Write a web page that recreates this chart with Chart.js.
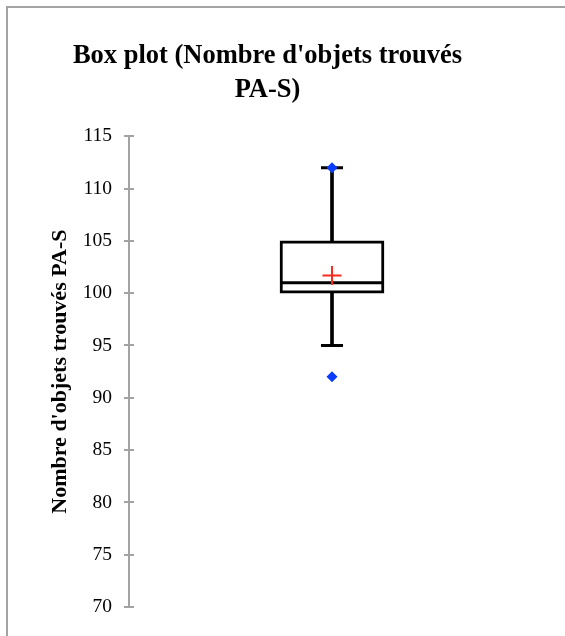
<!DOCTYPE html>
<html>
<head>
<meta charset="utf-8">
<script src="https://cdn.jsdelivr.net/npm/chart.js@4.4.0/dist/chart.umd.min.js"></script>
<style>
  html, body { margin: 0; padding: 0; background: #fff; }
  #wrap { position: relative; width: 565px; height: 636px; overflow: hidden; }
  #frame { position: absolute; left: 6px; top: 6px; width: 700px; height: 800px;
           border-left: 2px solid #a3a3a3; border-top: 2px solid #a3a3a3; pointer-events: none; }
  canvas { position: absolute; left: 0; top: 0; }
</style>
</head>
<body>
<div id="wrap">
  <canvas id="c" width="565" height="636"></canvas>
  <div id="frame"></div>
</div>
<script>
// ---- data ----
const categories = ["Nombre d'objets trouvés PA-S"];
const q1 = [100];
const median = [101];
const q3 = [105];
const mean = [101.7];
const whiskerLow = [95];
const whiskerHigh = [112];
const minValues = [92];
const maxValues = [112];
const yTicksMin = 70;
const yTicksMax = 115;
const yTickStep = 5;
const chartTitle = ["Box plot (Nombre d'objets trouvés", "PA-S)"];
const yAxisTitle = "Nombre d'objets trouvés PA-S";

const serif = "'Liberation Serif', 'DejaVu Serif', serif";

const innerTicks = {
  id: 'innerTicks',
  afterDatasetsDraw(chart) {
    const s = chart.scales.y;
    const ctx = chart.ctx;
    ctx.save();
    ctx.strokeStyle = '#a3a3a3';
    ctx.lineWidth = 2;
    for (let i = 0; i < s.ticks.length; i++) {
      const y = Math.round(s.getPixelForTick(i));
      ctx.beginPath();
      ctx.moveTo(chart.chartArea.left, y);
      ctx.lineTo(chart.chartArea.left + 5, y);
      ctx.stroke();
    }
    ctx.restore();
  }
};

const extremes = [];
categories.forEach((c, i) => {
  extremes.push({x: c, y: minValues[i]});
  extremes.push({x: c, y: maxValues[i]});
});

new Chart(document.getElementById('c'), {
  type: 'bar',
  data: {
    labels: categories,
    datasets: [
      { type: 'line', label: 'min/max', data: extremes, showLine: false,
        pointStyle: 'rectRot', pointRadius: 5.5, pointBackgroundColor: '#0a3cff',
        pointBorderColor: '#0a3cff', pointBorderWidth: 0, order: 0 },
      { type: 'line', label: 'mean', data: mean, showLine: false,
        pointStyle: 'cross', pointRadius: 9.5, pointBorderColor: '#ff2a1a',
        pointBorderWidth: 2, order: 1 },
      { type: 'line', label: 'median', data: median, showLine: false,
        pointStyle: 'line', pointRadius: 52, pointBorderColor: '#000',
        pointBorderWidth: 3, order: 2 },
      { type: 'line', label: 'capHigh', data: whiskerHigh, showLine: false,
        pointStyle: 'line', pointRadius: 11, pointBorderColor: '#000',
        pointBorderWidth: 3, order: 3 },
      { type: 'line', label: 'capLow', data: whiskerLow, showLine: false,
        pointStyle: 'line', pointRadius: 11, pointBorderColor: '#000',
        pointBorderWidth: 3, order: 3 },
      { label: 'box', data: categories.map((c, i) => [q1[i], q3[i]]),
        backgroundColor: '#fff', borderColor: '#000', borderWidth: 3,
        borderSkipped: false, barThickness: 104, grouped: false, order: 4 },
      { label: 'whiskerHigh', data: categories.map((c, i) => [q3[i], whiskerHigh[i]]),
        backgroundColor: '#000', borderWidth: 0, barThickness: 3, grouped: false, order: 5 },
      { label: 'whiskerLow', data: categories.map((c, i) => [whiskerLow[i], q1[i]]),
        backgroundColor: '#000', borderWidth: 0, barThickness: 3, grouped: false, order: 5 }
    ]
  },
  options: {
    responsive: false,
    animation: false,
    events: [],
    layout: { autoPadding: false, padding: { top: 40, right: 30, bottom: 29, left: 0 } },
    plugins: {
      legend: { display: false },
      tooltip: { enabled: false },
      title: {
        display: true,
        text: chartTitle,
        color: '#000',
        font: { family: serif, size: 26.5, weight: 'bold', lineHeight: 1.25 },
        padding: { top: 0, bottom: 30 }
      }
    },
    scales: {
      x: { display: false },
      y: {
        min: yTicksMin,
        max: yTicksMax,
        afterFit(scale) { scale.width = 129; },
        ticks: { stepSize: yTickStep, color: '#000', padding: 12,
                 font: { family: serif, size: 19.5 } },
        grid: { drawOnChartArea: false, drawTicks: true, tickLength: 5,
                color: '#a3a3a3', lineWidth: 2 },
        border: { display: true, color: '#a3a3a3', width: 2 },
        title: { display: true, text: yAxisTitle, color: '#000',
                 font: { family: serif, size: 22, weight: 'bold' },
                 padding: { top: 47, bottom: 0 } }
      }
    }
  },
  plugins: [innerTicks]
});
</script>
</body>
</html>
